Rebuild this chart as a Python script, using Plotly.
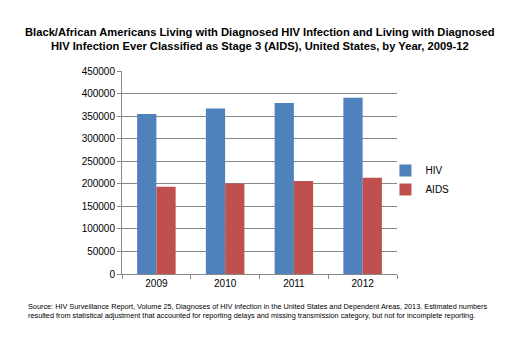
import plotly.graph_objects as go

years = ["2009", "2010", "2011", "2012"]
hiv = [354700, 367100, 379000, 390800]
aids = [193500, 200800, 206200, 213500]
y_ticks = [0, 50000, 100000, 150000, 200000, 250000, 300000, 350000, 400000, 450000]

title_lines = [
    "Black/African Americans Living with Diagnosed HIV Infection and Living with Diagnosed",
    "HIV Infection Ever Classified as Stage 3 (AIDS), United States, by Year, 2009-12",
]
source_text = ("Source: HIV Surveillance Report, Volume 25, Diagnoses of HIV infection in the United States and Dependent Areas, 2013. Estimated numbers<br>"
               "resulted from statistical adjustment that accounted for reporting delays and missing transmission category, but not for incomplete reporting.")

fig = go.Figure()
fig.add_trace(go.Bar(x=years, y=hiv, name="HIV", marker=dict(color="#4F81BD", line=dict(width=0))))
fig.add_trace(go.Bar(x=years, y=aids, name="AIDS", marker=dict(color="#C0504D", line=dict(width=0))))

fig.update_layout(
    width=520, height=346,
    margin=dict(l=122, r=123, t=71, b=72),
    paper_bgcolor="white", plot_bgcolor="white",
    barmode="group", bargap=0.44, bargroupgap=0,
    font=dict(family="Arial, Liberation Sans", size=10, color="#000"),
    legend=dict(x=0.958, y=0.463, xanchor="left", yanchor="middle",
                font=dict(size=10), itemwidth=30, tracegroupgap=4,
                bgcolor="rgba(0,0,0,0)"),
    showlegend=True,
)
fig.update_yaxes(range=[0, 450000], tickvals=y_ticks, ticktext=[str(v) for v in y_ticks],
                 showgrid=True, gridcolor="#888888", gridwidth=1,
                 showline=True, linecolor="#888888", linewidth=1,
                 ticks="outside", ticklen=4, tickcolor="#888888", zeroline=False)
fig.update_xaxes(showline=True, linecolor="#888888", linewidth=1,
                 ticks="outside", ticklen=4, tickcolor="#888888", tickson="boundaries")

for i, (line, ypos) in enumerate(zip(title_lines, [1.192, 1.1256])):
    fig.add_annotation(text="<b>" + line + "</b>", xref="paper", yref="paper",
                       x=0.5, y=ypos, xanchor="center", yanchor="middle", showarrow=False,
                       font=dict(family="Arial, Liberation Sans", size=11.2, color="#000"))

fig.add_annotation(
    text=source_text,
    xref="paper", yref="paper", x=-0.35, y=-0.13, xanchor="left", yanchor="top",
    align="left", showarrow=False, font=dict(family="Arial, Liberation Sans", size=7.3, color="#000"),
)

fig.write_html("out.html")
